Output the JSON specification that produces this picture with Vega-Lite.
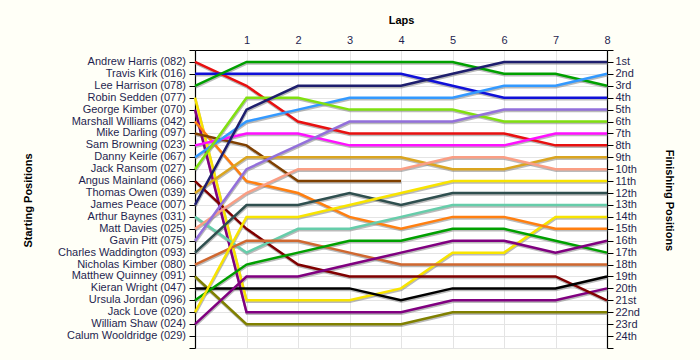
{
  "$schema": "https://vega.github.io/schema/vega-lite/v6.json",
  "width": 412,
  "height": 298,
  "autosize": {"type": "none"},
  "padding": {"left": 195, "top": 50, "right": 93, "bottom": 12},
  "background": "#FFFFF7",
  "config": {
    "view": {"fill": "white", "stroke": null},
    "font": "Liberation Sans",
    "axis": {
      "labelFont": "Liberation Sans",
      "labelFontSize": 11,
      "labelColor": "#1F1F50",
      "titleFont": "Liberation Sans",
      "titleFontSize": 11,
      "titleFontWeight": "bold",
      "titleColor": "#000000",
      "domainColor": "#000000",
      "domainWidth": 1.2,
      "tickColor": "#000000",
      "gridColor": "#E4E4E4",
      "gridWidth": 1
    }
  },
  "datasets": {
    "drivers": [
      {"id": "082", "name": "Andrew Harris (082)", "start": 1},
      {"id": "016", "name": "Travis Kirk (016)", "start": 2},
      {"id": "078", "name": "Lee Harrison (078)", "start": 3},
      {"id": "077", "name": "Robin Sedden (077)", "start": 4},
      {"id": "070", "name": "George Kimber (070)", "start": 5},
      {"id": "042", "name": "Marshall Williams (042)", "start": 6},
      {"id": "097", "name": "Mike Darling (097)", "start": 7},
      {"id": "023", "name": "Sam Browning (023)", "start": 8},
      {"id": "067", "name": "Danny Keirle (067)", "start": 9},
      {"id": "027", "name": "Jack Ransom (027)", "start": 10},
      {"id": "066", "name": "Angus Mainland (066)", "start": 11},
      {"id": "039", "name": "Thomas Owen (039)", "start": 12},
      {"id": "007", "name": "James Peace (007)", "start": 13},
      {"id": "031", "name": "Arthur Baynes (031)", "start": 14},
      {"id": "025", "name": "Matt Davies (025)", "start": 15},
      {"id": "075", "name": "Gavin Pitt (075)", "start": 16},
      {"id": "093", "name": "Charles Waddington (093)", "start": 17},
      {"id": "080", "name": "Nicholas Kimber (080)", "start": 18},
      {"id": "091", "name": "Matthew Quinney (091)", "start": 19},
      {"id": "047", "name": "Kieran Wright (047)", "start": 20},
      {"id": "096", "name": "Ursula Jordan (096)", "start": 21},
      {"id": "020", "name": "Jack Love (020)", "start": 22},
      {"id": "024", "name": "William Shaw (024)", "start": 23},
      {"id": "029", "name": "Calum Wooldridge (029)", "start": 24}
    ],
    "laps": [
      {"id": "082", "lap": 0, "pos": 1}, {"id": "082", "lap": 1, "pos": 3}, {"id": "082", "lap": 2, "pos": 6}, {"id": "082", "lap": 3, "pos": 7}, {"id": "082", "lap": 4, "pos": 7}, {"id": "082", "lap": 5, "pos": 7}, {"id": "082", "lap": 6, "pos": 7}, {"id": "082", "lap": 7, "pos": 8}, {"id": "082", "lap": 8, "pos": 8},
      {"id": "016", "lap": 0, "pos": 2}, {"id": "016", "lap": 1, "pos": 2}, {"id": "016", "lap": 2, "pos": 2}, {"id": "016", "lap": 3, "pos": 2}, {"id": "016", "lap": 4, "pos": 2}, {"id": "016", "lap": 5, "pos": 3}, {"id": "016", "lap": 6, "pos": 4}, {"id": "016", "lap": 7, "pos": 4}, {"id": "016", "lap": 8, "pos": 4},
      {"id": "078", "lap": 0, "pos": 3}, {"id": "078", "lap": 1, "pos": 1}, {"id": "078", "lap": 2, "pos": 1}, {"id": "078", "lap": 3, "pos": 1}, {"id": "078", "lap": 4, "pos": 1}, {"id": "078", "lap": 5, "pos": 1}, {"id": "078", "lap": 6, "pos": 2}, {"id": "078", "lap": 7, "pos": 2}, {"id": "078", "lap": 8, "pos": 3},
      {"id": "077", "lap": 0, "pos": 4}, {"id": "077", "lap": 1, "pos": 21}, {"id": "077", "lap": 2, "pos": 21}, {"id": "077", "lap": 3, "pos": 21}, {"id": "077", "lap": 4, "pos": 20}, {"id": "077", "lap": 5, "pos": 17}, {"id": "077", "lap": 6, "pos": 17}, {"id": "077", "lap": 7, "pos": 14}, {"id": "077", "lap": 8, "pos": 14},
      {"id": "070", "lap": 0, "pos": 5}, {"id": "070", "lap": 1, "pos": 22}, {"id": "070", "lap": 2, "pos": 22}, {"id": "070", "lap": 3, "pos": 22}, {"id": "070", "lap": 4, "pos": 22}, {"id": "070", "lap": 5, "pos": 21}, {"id": "070", "lap": 6, "pos": 21}, {"id": "070", "lap": 7, "pos": 21}, {"id": "070", "lap": 8, "pos": 20},
      {"id": "042", "lap": 0, "pos": 6}, {"id": "042", "lap": 1, "pos": 11}, {"id": "042", "lap": 2, "pos": 12}, {"id": "042", "lap": 3, "pos": 14}, {"id": "042", "lap": 4, "pos": 15}, {"id": "042", "lap": 5, "pos": 14}, {"id": "042", "lap": 6, "pos": 14}, {"id": "042", "lap": 7, "pos": 15}, {"id": "042", "lap": 8, "pos": 15},
      {"id": "097", "lap": 0, "pos": 7}, {"id": "097", "lap": 1, "pos": 8}, {"id": "097", "lap": 2, "pos": 11}, {"id": "097", "lap": 3, "pos": 11}, {"id": "097", "lap": 4, "pos": 11},
      {"id": "023", "lap": 0, "pos": 8}, {"id": "023", "lap": 1, "pos": 7}, {"id": "023", "lap": 2, "pos": 7}, {"id": "023", "lap": 3, "pos": 8}, {"id": "023", "lap": 4, "pos": 8}, {"id": "023", "lap": 5, "pos": 8}, {"id": "023", "lap": 6, "pos": 8}, {"id": "023", "lap": 7, "pos": 7}, {"id": "023", "lap": 8, "pos": 7},
      {"id": "067", "lap": 0, "pos": 9}, {"id": "067", "lap": 1, "pos": 6}, {"id": "067", "lap": 2, "pos": 5}, {"id": "067", "lap": 3, "pos": 4}, {"id": "067", "lap": 4, "pos": 4}, {"id": "067", "lap": 5, "pos": 4}, {"id": "067", "lap": 6, "pos": 3}, {"id": "067", "lap": 7, "pos": 3}, {"id": "067", "lap": 8, "pos": 2},
      {"id": "027", "lap": 0, "pos": 10}, {"id": "027", "lap": 1, "pos": 4}, {"id": "027", "lap": 2, "pos": 4}, {"id": "027", "lap": 3, "pos": 5}, {"id": "027", "lap": 4, "pos": 5}, {"id": "027", "lap": 5, "pos": 5}, {"id": "027", "lap": 6, "pos": 6}, {"id": "027", "lap": 7, "pos": 6}, {"id": "027", "lap": 8, "pos": 6},
      {"id": "066", "lap": 0, "pos": 11}, {"id": "066", "lap": 1, "pos": 15}, {"id": "066", "lap": 2, "pos": 18}, {"id": "066", "lap": 3, "pos": 19}, {"id": "066", "lap": 4, "pos": 19}, {"id": "066", "lap": 5, "pos": 19}, {"id": "066", "lap": 6, "pos": 19}, {"id": "066", "lap": 7, "pos": 19}, {"id": "066", "lap": 8, "pos": 21},
      {"id": "039", "lap": 0, "pos": 12}, {"id": "039", "lap": 1, "pos": 9}, {"id": "039", "lap": 2, "pos": 9}, {"id": "039", "lap": 3, "pos": 9}, {"id": "039", "lap": 4, "pos": 9}, {"id": "039", "lap": 5, "pos": 10}, {"id": "039", "lap": 6, "pos": 10}, {"id": "039", "lap": 7, "pos": 9}, {"id": "039", "lap": 8, "pos": 9},
      {"id": "007", "lap": 0, "pos": 13}, {"id": "007", "lap": 1, "pos": 5}, {"id": "007", "lap": 2, "pos": 3}, {"id": "007", "lap": 3, "pos": 3}, {"id": "007", "lap": 4, "pos": 3}, {"id": "007", "lap": 5, "pos": 2}, {"id": "007", "lap": 6, "pos": 1}, {"id": "007", "lap": 7, "pos": 1}, {"id": "007", "lap": 8, "pos": 1},
      {"id": "031", "lap": 0, "pos": 14}, {"id": "031", "lap": 1, "pos": 17}, {"id": "031", "lap": 2, "pos": 15}, {"id": "031", "lap": 3, "pos": 15}, {"id": "031", "lap": 4, "pos": 14}, {"id": "031", "lap": 5, "pos": 13}, {"id": "031", "lap": 6, "pos": 13}, {"id": "031", "lap": 7, "pos": 13}, {"id": "031", "lap": 8, "pos": 13},
      {"id": "025", "lap": 0, "pos": 15}, {"id": "025", "lap": 1, "pos": 12}, {"id": "025", "lap": 2, "pos": 10}, {"id": "025", "lap": 3, "pos": 10}, {"id": "025", "lap": 4, "pos": 10}, {"id": "025", "lap": 5, "pos": 9}, {"id": "025", "lap": 6, "pos": 9}, {"id": "025", "lap": 7, "pos": 10}, {"id": "025", "lap": 8, "pos": 10},
      {"id": "075", "lap": 0, "pos": 16}, {"id": "075", "lap": 1, "pos": 10}, {"id": "075", "lap": 2, "pos": 8}, {"id": "075", "lap": 3, "pos": 6}, {"id": "075", "lap": 4, "pos": 6}, {"id": "075", "lap": 5, "pos": 6}, {"id": "075", "lap": 6, "pos": 5}, {"id": "075", "lap": 7, "pos": 5}, {"id": "075", "lap": 8, "pos": 5},
      {"id": "093", "lap": 0, "pos": 17}, {"id": "093", "lap": 1, "pos": 13}, {"id": "093", "lap": 2, "pos": 13}, {"id": "093", "lap": 3, "pos": 12}, {"id": "093", "lap": 4, "pos": 13}, {"id": "093", "lap": 5, "pos": 12}, {"id": "093", "lap": 6, "pos": 12}, {"id": "093", "lap": 7, "pos": 12}, {"id": "093", "lap": 8, "pos": 12},
      {"id": "080", "lap": 0, "pos": 18}, {"id": "080", "lap": 1, "pos": 16}, {"id": "080", "lap": 2, "pos": 16}, {"id": "080", "lap": 3, "pos": 17}, {"id": "080", "lap": 4, "pos": 18}, {"id": "080", "lap": 5, "pos": 18}, {"id": "080", "lap": 6, "pos": 18}, {"id": "080", "lap": 7, "pos": 18}, {"id": "080", "lap": 8, "pos": 18},
      {"id": "091", "lap": 0, "pos": 19}, {"id": "091", "lap": 1, "pos": 23}, {"id": "091", "lap": 2, "pos": 23}, {"id": "091", "lap": 3, "pos": 23}, {"id": "091", "lap": 4, "pos": 23}, {"id": "091", "lap": 5, "pos": 22}, {"id": "091", "lap": 6, "pos": 22}, {"id": "091", "lap": 7, "pos": 22}, {"id": "091", "lap": 8, "pos": 22},
      {"id": "047", "lap": 0, "pos": 20}, {"id": "047", "lap": 1, "pos": 20}, {"id": "047", "lap": 2, "pos": 20}, {"id": "047", "lap": 3, "pos": 20}, {"id": "047", "lap": 4, "pos": 21}, {"id": "047", "lap": 5, "pos": 20}, {"id": "047", "lap": 6, "pos": 20}, {"id": "047", "lap": 7, "pos": 20}, {"id": "047", "lap": 8, "pos": 19},
      {"id": "096", "lap": 0, "pos": 21}, {"id": "096", "lap": 1, "pos": 18}, {"id": "096", "lap": 2, "pos": 17}, {"id": "096", "lap": 3, "pos": 16}, {"id": "096", "lap": 4, "pos": 16}, {"id": "096", "lap": 5, "pos": 15}, {"id": "096", "lap": 6, "pos": 15}, {"id": "096", "lap": 7, "pos": 16}, {"id": "096", "lap": 8, "pos": 17},
      {"id": "020", "lap": 0, "pos": 22}, {"id": "020", "lap": 1, "pos": 14}, {"id": "020", "lap": 2, "pos": 14}, {"id": "020", "lap": 3, "pos": 13}, {"id": "020", "lap": 4, "pos": 12}, {"id": "020", "lap": 5, "pos": 11}, {"id": "020", "lap": 6, "pos": 11}, {"id": "020", "lap": 7, "pos": 11}, {"id": "020", "lap": 8, "pos": 11},
      {"id": "024", "lap": 0, "pos": 23}, {"id": "024", "lap": 1, "pos": 19}, {"id": "024", "lap": 2, "pos": 19}, {"id": "024", "lap": 3, "pos": 18}, {"id": "024", "lap": 4, "pos": 17}, {"id": "024", "lap": 5, "pos": 16}, {"id": "024", "lap": 6, "pos": 16}, {"id": "024", "lap": 7, "pos": 17}, {"id": "024", "lap": 8, "pos": 16}
    ]
  },
  "layer": [
    {
      "data": {"name": "laps"},
      "mark": {"type": "line", "color": "#8C8C8C", "strokeWidth": 2.5, "opacity": 0.6, "xOffset": 0.5, "yOffset": 1.5},
      "encoding": {
        "x": {"field": "lap", "type": "quantitative", "scale": {"domain": [0, 8], "nice": false},
          "axis": {"orient": "top", "values": [1, 2, 3, 4, 5, 6, 7, 8], "ticks": false, "labelPadding": 5, "labelFlush": false, "grid": true, "title": "Laps", "titlePadding": 9}},
        "y": {"field": "pos", "type": "quantitative", "scale": {"domain": [0, 25], "reverse": true, "nice": false, "zero": false},
          "axis": {"orient": "left", "values": [0, 1, 2, 3, 4, 5, 6, 7, 8, 9, 10, 11, 12, 13, 14, 15, 16, 17, 18, 19, 20, 21, 22, 23, 24, 25], "labels": false, "tickSize": 6, "grid": false, "title": "Starting Positions", "titleAngle": -90, "titleAlign": "center", "titleBaseline": "middle", "titleX": -167, "titleY": 150}},
        "detail": {"field": "id"}
      }
    },
    {
      "data": {"name": "laps"},
      "mark": {"type": "line", "strokeWidth": 2.5},
      "encoding": {
        "x": {"field": "lap", "type": "quantitative"},
        "y": {"field": "pos", "type": "quantitative",
          "axis": {"orient": "right", "values": [0, 1, 2, 3, 4, 5, 6, 7, 8, 9, 10, 11, 12, 13, 14, 15, 16, 17, 18, 19, 20, 21, 22, 23, 24, 25], "tickSize": 6, "labelPadding": 2, "grid": true,
            "labelExpr": "datum.value < 1 || datum.value > 24 ? '' : datum.value + (datum.value % 10 == 1 && datum.value != 11 ? 'st' : datum.value % 10 == 2 && datum.value != 12 ? 'nd' : datum.value % 10 == 3 && datum.value != 13 ? 'rd' : 'th')",
            "title": "Finishing Positions", "titleAngle": 90, "titleAlign": "center", "titleBaseline": "middle", "titleX": 61, "titleY": 150}},
        "color": {"field": "id", "type": "nominal", "legend": null,
          "scale": {
            "domain": ["082", "016", "078", "077", "070", "042", "097", "023", "067", "027", "066", "039", "007", "031", "025", "075", "093", "080", "091", "047", "096", "020", "024"],
            "range": ["#E81010", "#1010D8", "#00A000", "#F8E400", "#800080", "#FF7F10", "#804000", "#FF10FF", "#3399FF", "#80E010", "#800000", "#DAA520", "#1E1E6E", "#66CDAA", "#FA9E84", "#9370DB", "#2F4F4F", "#D06830", "#808000", "#000000", "#00A000", "#F8E400", "#800080"]
          }}
      }
    },
    {
      "data": {"name": "drivers"},
      "mark": {"type": "text", "align": "right", "baseline": "middle", "dx": -9, "font": "Liberation Sans", "fontSize": 11, "color": "#1F1F50"},
      "encoding": {
        "x": {"datum": 0, "type": "quantitative"},
        "y": {"field": "start", "type": "quantitative", "axis": null},
        "text": {"field": "name"}
      }
    }
  ],
  "resolve": {"axis": {"y": "independent"}}
}
